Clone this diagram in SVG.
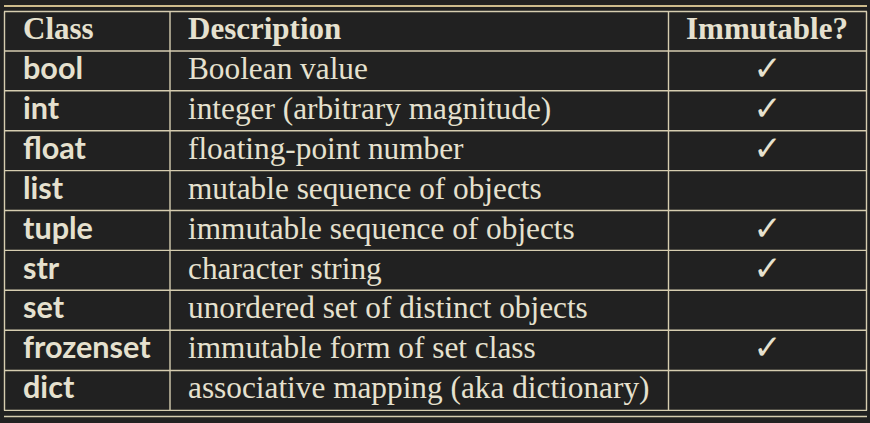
<svg xmlns="http://www.w3.org/2000/svg" width="870" height="423" viewBox="0 0 870 423">
<style>
.bg{fill:#212121}
.rule{stroke:#d6cdb0;stroke-width:1.4;fill:none}
.top{stroke:#cdbb8c;stroke-width:1.8}
.hd{font-family:"Liberation Serif",serif;font-weight:bold;font-size:31px;fill:#e6e1cf}
.cls{font-family:Lato,"Liberation Sans",sans-serif;font-weight:bold;font-size:30.6px;fill:#e6e1cf}
.desc{font-family:"Liberation Serif",serif;font-size:31.3px;fill:#e6e1cf}
.chk{font-family:"DejaVu Sans",sans-serif;font-size:34px;fill:#e6e1cf;text-anchor:middle}
</style>
<rect class="bg" x="0" y="0" width="870" height="423"/>
<g id="grid">
<line class="rule top" x1="4" y1="6" x2="867" y2="6"/>
<line class="rule" x1="4" y1="11.5" x2="867" y2="11.5"/>
<line class="rule" x1="4.5" y1="11.5" x2="4.5" y2="410.5"/>
<line class="rule" x1="866.5" y1="11.5" x2="866.5" y2="410.5"/>
<line class="rule" x1="170" y1="11.5" x2="170" y2="410.5"/>
<line class="rule" x1="668.5" y1="11.5" x2="668.5" y2="410.5"/>
<line class="rule" x1="4" y1="51" x2="867" y2="51"/>
<line class="rule" x1="4" y1="90.8" x2="867" y2="90.8"/>
<line class="rule" x1="4" y1="130.7" x2="867" y2="130.7"/>
<line class="rule" x1="4" y1="170.6" x2="867" y2="170.6"/>
<line class="rule" x1="4" y1="210.5" x2="867" y2="210.5"/>
<line class="rule" x1="4" y1="250.4" x2="867" y2="250.4"/>
<line class="rule" x1="4" y1="290.3" x2="867" y2="290.3"/>
<line class="rule" x1="4" y1="330.2" x2="867" y2="330.2"/>
<line class="rule" x1="4" y1="370.5" x2="867" y2="370.5"/>
<line class="rule" x1="4" y1="410.4" x2="867" y2="410.4"/>
<line class="rule" x1="4" y1="416.5" x2="867" y2="416.5"/>
</g>
<g id="header">
<text class="hd" x="23" y="39">Class</text>
<text class="hd" x="188" y="39">Description</text>
<text class="hd" x="686" y="39">Immutable?</text>
</g>
<g id="row-bool">
<text class="cls" x="23" y="79">bool</text>
<text class="desc" x="188" y="79">Boolean value</text>
<text class="chk" x="767.5" y="80">✓</text>
</g>
<g id="row-int">
<text class="cls" x="23" y="118.9">int</text>
<text class="desc" x="188" y="118.9">integer (arbitrary magnitude)</text>
<text class="chk" x="767.5" y="119.9">✓</text>
</g>
<g id="row-float">
<text class="cls" x="23" y="158.8">float</text>
<text class="desc" x="188" y="158.8">floating-point number</text>
<text class="chk" x="767.5" y="159.8">✓</text>
</g>
<g id="row-list">
<text class="cls" x="23" y="198.7">list</text>
<text class="desc" x="188" y="198.7">mutable sequence of objects</text>
</g>
<g id="row-tuple">
<text class="cls" x="23" y="238.6">tuple</text>
<text class="desc" x="188" y="238.6">immutable sequence of objects</text>
<text class="chk" x="767.5" y="239.6">✓</text>
</g>
<g id="row-str">
<text class="cls" x="23" y="278.5">str</text>
<text class="desc" x="188" y="278.5">character string</text>
<text class="chk" x="767.5" y="279.5">✓</text>
</g>
<g id="row-set">
<text class="cls" x="23" y="318.4">set</text>
<text class="desc" x="188" y="318.4">unordered set of distinct objects</text>
</g>
<g id="row-frozenset">
<text class="cls" x="23" y="358.3">frozenset</text>
<text class="desc" x="188" y="358.3">immutable form of set class</text>
<text class="chk" x="767.5" y="359.3">✓</text>
</g>
<g id="row-dict">
<text class="cls" x="23" y="398.2">dict</text>
<text class="desc" x="188" y="398.2">associative mapping (aka dictionary)</text>
</g>
</svg>
